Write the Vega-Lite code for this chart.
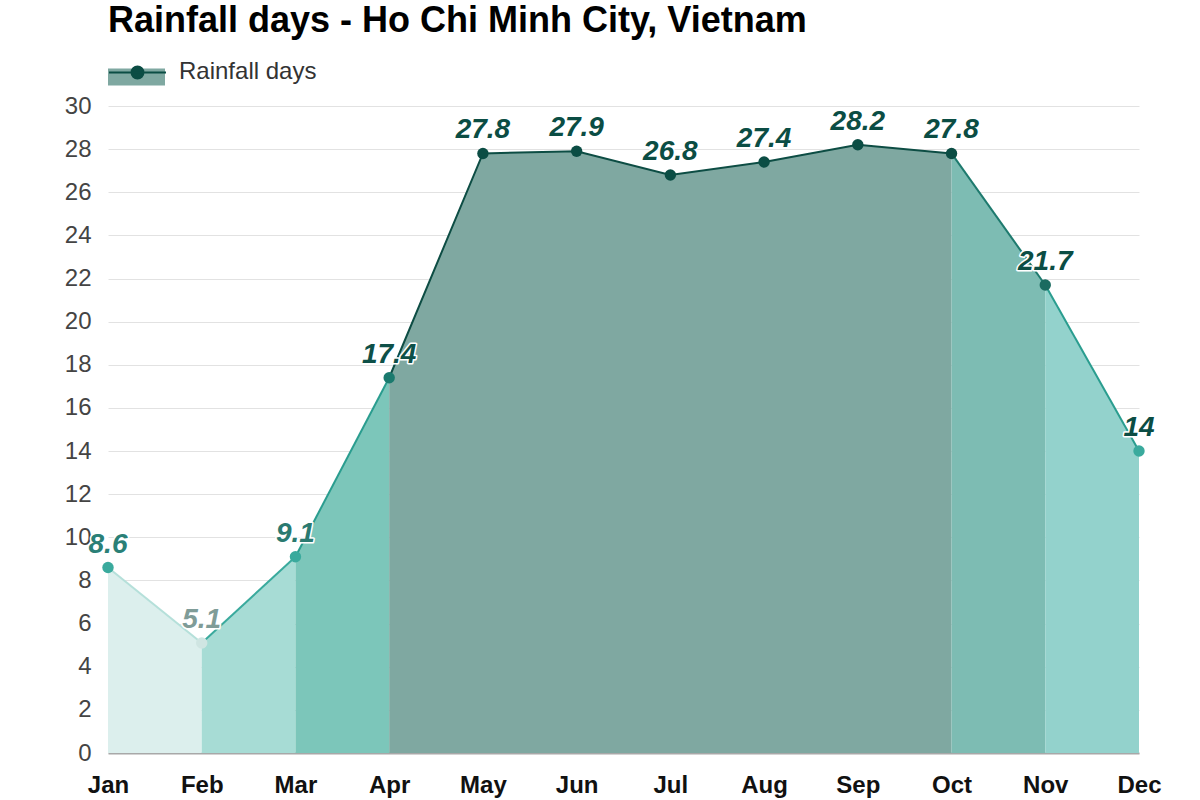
{
  "$schema": "https://vega.github.io/schema/vega-lite/v6.json",
  "autosize": "none",
  "width": 1031,
  "height": 647,
  "padding": {"left": 108, "top": 106, "right": 61, "bottom": 47},
  "background": "white",
  "config": {
    "view": {"stroke": null},
    "font": "Liberation Sans",
    "legend": {"padding": 0}
  },
  "title": {
    "text": "Rainfall days - Ho Chi Minh City, Vietnam",
    "anchor": "start",
    "frame": "group",
    "fontSize": 36,
    "fontWeight": "bold",
    "color": "#000000",
    "font": "Liberation Sans",
    "offset": 2
  },
  "datasets": {
    "segs": [
      {"seg": "s1", "m": "Jan", "v": 8.6}, {"seg": "s1", "m": "Feb", "v": 5.1},
      {"seg": "s2", "m": "Feb", "v": 5.1}, {"seg": "s2", "m": "Mar", "v": 9.1},
      {"seg": "s3", "m": "Mar", "v": 9.1}, {"seg": "s3", "m": "Apr", "v": 17.4},
      {"seg": "s4", "m": "Apr", "v": 17.4}, {"seg": "s4", "m": "May", "v": 27.8},
      {"seg": "s4", "m": "Jun", "v": 27.9}, {"seg": "s4", "m": "Jul", "v": 26.8},
      {"seg": "s4", "m": "Aug", "v": 27.4}, {"seg": "s4", "m": "Sep", "v": 28.2},
      {"seg": "s4", "m": "Oct", "v": 27.8},
      {"seg": "s5", "m": "Oct", "v": 27.8}, {"seg": "s5", "m": "Nov", "v": 21.7},
      {"seg": "s6", "m": "Nov", "v": 21.7}, {"seg": "s6", "m": "Dec", "v": 14}
    ],
    "pts": [
      {"m": "Jan", "v": 8.6}, {"m": "Feb", "v": 5.1}, {"m": "Mar", "v": 9.1},
      {"m": "Apr", "v": 17.4}, {"m": "May", "v": 27.8}, {"m": "Jun", "v": 27.9},
      {"m": "Jul", "v": 26.8}, {"m": "Aug", "v": 27.4}, {"m": "Sep", "v": 28.2},
      {"m": "Oct", "v": 27.8}, {"m": "Nov", "v": 21.7}, {"m": "Dec", "v": 14}
    ]
  },
  "encoding": {
    "x": {
      "field": "m", "type": "ordinal",
      "scale": {"type": "point", "padding": 0, "domain": ["Jan","Feb","Mar","Apr","May","Jun","Jul","Aug","Sep","Oct","Nov","Dec"]},
      "axis": {
        "title": null, "labelAngle": 0, "labelFontSize": 24, "labelFontWeight": "bold",
        "labelColor": "#111111", "labelPadding": 20, "ticks": false,
        "domain": true, "domainColor": "#a8a8a8", "domainWidth": 2, "grid": false
      }
    },
    "y": {
      "field": "v", "type": "quantitative", "stack": null,
      "scale": {"domain": [0, 30], "nice": false, "zero": true},
      "axis": {
        "title": null, "values": [0,2,4,6,8,10,12,14,16,18,20,22,24,26,28,30],
        "labelFontSize": 24, "labelColor": "#444444", "labelPadding": 17,
        "ticks": false, "domain": false, "gridColor": "#e2e2e2", "gridWidth": 1
      }
    }
  },
  "layer": [
    {
      "data": {"name": "segs"},
      "mark": {"type": "area", "opacity": 1},
      "encoding": {
        "color": {
          "field": "seg", "type": "nominal", "legend": null,
          "scale": {"domain": ["s1","s2","s3","s4","s5","s6"], "range": ["#dcefed","#a7dcd5","#7cc6ba","#7fa8a1","#7dbcb3","#93d2cc"]}
        }
      }
    },
    {
      "data": {"name": "segs"},
      "mark": {"type": "line", "strokeWidth": 2},
      "encoding": {
        "stroke": {
          "field": "seg", "type": "nominal", "legend": null,
          "scale": {"domain": ["s1","s2","s3","s4","s5","s6"], "range": ["#b5e0da","#3aaa9d","#2a9d8f","#0d4d44","#1e7a6e","#2a9d8f"]}
        }
      }
    },
    {
      "data": {"name": "pts"},
      "mark": {"type": "circle", "size": 130, "opacity": 1},
      "encoding": {
        "fill": {
          "field": "m", "type": "nominal", "legend": null,
          "scale": {"domain": ["Jan","Feb","Mar","Apr","May","Jun","Jul","Aug","Sep","Oct","Nov","Dec"],
                    "range": ["#3aaa9d","#cfe5e2","#3aaa9d","#1a7a6e","#0b4d44","#0b4d44","#0b4d44","#0b4d44","#0b4d44","#0b4d44","#1a6b60","#3aaa9d"]}
        }
      }
    },
    {
      "data": {"name": "pts"},
      "mark": {"type": "text", "fontSize": 28, "fontWeight": "bold", "fontStyle": "italic", "baseline": "alphabetic", "dy": -15, "stroke": "white", "strokeWidth": 3, "fill": "white", "strokeJoin": "round"},
      "encoding": {"text": {"field": "v", "type": "nominal"}}
    },
    {
      "data": {"name": "pts"},
      "mark": {"type": "text", "fontSize": 28, "fontWeight": "bold", "fontStyle": "italic", "baseline": "alphabetic", "dy": -15},
      "encoding": {
        "text": {"field": "v", "type": "nominal"},
        "color": {
          "field": "m", "type": "nominal", "legend": null,
          "scale": {"domain": ["Jan","Feb","Mar","Apr","May","Jun","Jul","Aug","Sep","Oct","Nov","Dec"],
                    "range": ["#2a8077","#7f9c98","#2a7a70","#0e5048","#0b4d44","#0b4d44","#0b4d44","#0b4d44","#0b4d44","#0b4d44","#0b4d44","#0b4d44"]}
        }
      }
    },
    {
      "data": {"values": []},
      "mark": {"type": "area"},
      "encoding": {
        "x": {"datum": "Jan", "type": "ordinal"},
        "y": {"datum": 0, "type": "quantitative"},
        "fill": {
          "datum": "Rainfall days ", "type": "nominal",
          "scale": {"range": ["#7fa8a1"]},
          "legend": {
            "title": null, "orient": "none", "legendX": 0, "legendY": -64,
            "symbolType": "M-1,-0.07 L1,-0.07 L1,0.53 L-1,0.53 Z",
            "symbolSize": 3249, "symbolStrokeWidth": 0, "symbolOpacity": 1,
            "labelFontSize": 24, "labelOpacity": 0, "labelOffset": 12, "labelFont": "Liberation Sans"
          }
        }
      }
    },
    {
      "data": {"values": []},
      "mark": {"type": "circle"},
      "encoding": {
        "x": {"datum": "Jan", "type": "ordinal"},
        "y": {"datum": 0, "type": "quantitative"},
        "fill": {
          "datum": "Rainfall days", "type": "nominal",
          "scale": {"range": ["#0b4d44"]},
          "legend": {
            "title": null, "orient": "none", "legendX": 0, "legendY": -64,
            "symbolType": "M-1,0.035 L1,0.035 M-0.21,0.035 A0.21,0.21 0 1 1 0.21,0.035 A0.21,0.21 0 1 1 -0.21,0.035 Z",
            "symbolSize": 3249, "symbolStrokeColor": "#0b4d44", "symbolStrokeWidth": 2, "symbolOpacity": 1,
            "labelFontSize": 24, "labelColor": "#333333", "labelOffset": 12, "labelFont": "Liberation Sans"
          }
        }
      }
    }
  ],
  "resolve": {"scale": {"color": "independent", "fill": "independent", "stroke": "independent"}}
}
